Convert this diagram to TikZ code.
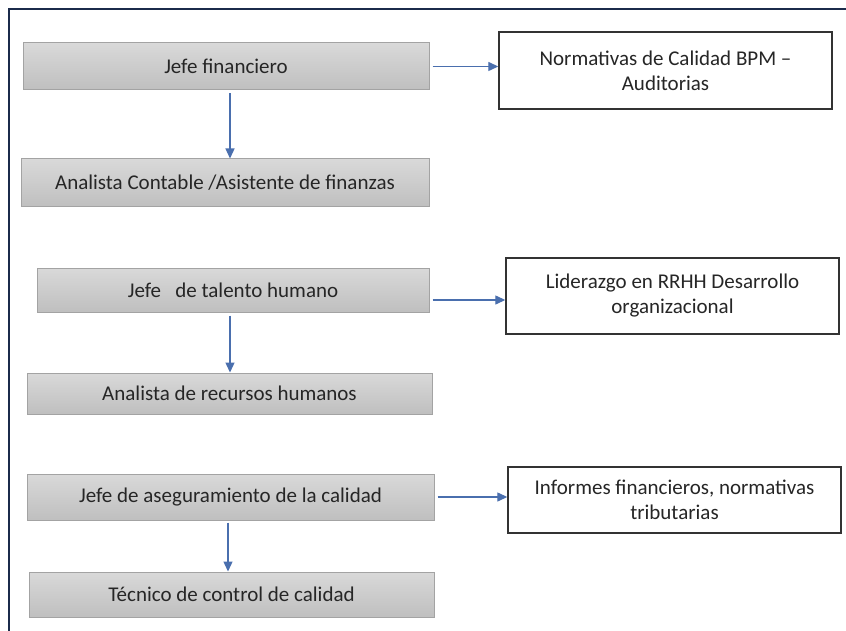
\documentclass[tikz,border=0pt]{standalone}
\usepackage{fontspec}
\setmainfont{Carlito}
\usetikzlibrary{arrows.meta,calc}
\definecolor{navy}{HTML}{1B2B4B}
\definecolor{arrblue}{HTML}{4A6FAE}
\definecolor{gtop}{HTML}{D9D9D9}
\definecolor{gbot}{HTML}{BFBFBF}
\definecolor{gborder}{HTML}{A3A3A3}
\definecolor{txt}{HTML}{262626}
\begin{document}
\begin{tikzpicture}[x=1pt,y=-1pt,
  font=\fontsize{21}{25}\selectfont, text=txt,
  gbox/.style={draw=gborder, line width=1pt, top color=gtop, bottom color=gbot, inner sep=0pt},
  wbox/.style={draw=black!80, line width=1.4pt, fill=white, align=center, inner sep=0pt, minimum width=333pt},
  arr/.style={draw=arrblue, line width=1.3pt, -{Triangle[length=10pt,width=9pt]}}]
\useasboundingbox (0,0) rectangle (846,631);
\fill[white] (0,0) rectangle (846,631);
\draw[navy, line width=2.5pt] (9,631) -- (9,9) -- (846,9);

\node[gbox, minimum width=406pt, minimum height=47pt] (a1) at (226,66.5) {Jefe financiero};
\node[gbox, minimum width=408pt, minimum height=48pt] (a2) at (225,183) {Analista Contable /Asistente de finanzas};
\node[wbox, minimum height=77pt] (r1) at (665.5,70.5) {Normativas de Calidad BPM –\\Auditorias};

\node[gbox, minimum width=392pt, minimum height=44pt] (b1) at (233,290) {Jefe\ \ \ de talento humano};
\node[gbox, minimum width=405pt, minimum height=41pt] (b2) at (229.5,393.5) {Analista de recursos humanos};
\node[wbox, minimum height=76pt] (r2) at (672.5,296) {Liderazgo en RRHH Desarrollo\\organizacional};

\node[gbox, minimum width=407pt, minimum height=46pt] (c1) at (230.5,497) {Jefe de aseguramiento de la calidad};
\node[gbox, minimum width=405pt, minimum height=45pt] (c2) at (231.5,594.5) {Técnico de control de calidad};
\node[wbox, minimum height=66pt] (r3) at (674.5,500) {Informes financieros, normativas\\tributarias};

\draw[arr] ([xshift=4pt,yshift=-3pt]a1.south) -- ([xshift=5pt]a2.north);
\draw[arr] ([xshift=3pt]a1.east) -- (a1.east -| r1.west);

\draw[arr] ([xshift=-3pt,yshift=-3pt]b1.south) -- ([xshift=0.5pt]b2.north);
\draw[arr] ([xshift=3pt,yshift=-10pt]b1.east) -- ([yshift=-10pt]b1.east -| r2.west);

\draw[arr] ([xshift=-2.5pt,yshift=-2pt]c1.south) -- ([xshift=-3.5pt]c2.north);
\draw[arr] ([xshift=3pt]c1.east) -- (c1.east -| r3.west);
\end{tikzpicture}
\end{document}
